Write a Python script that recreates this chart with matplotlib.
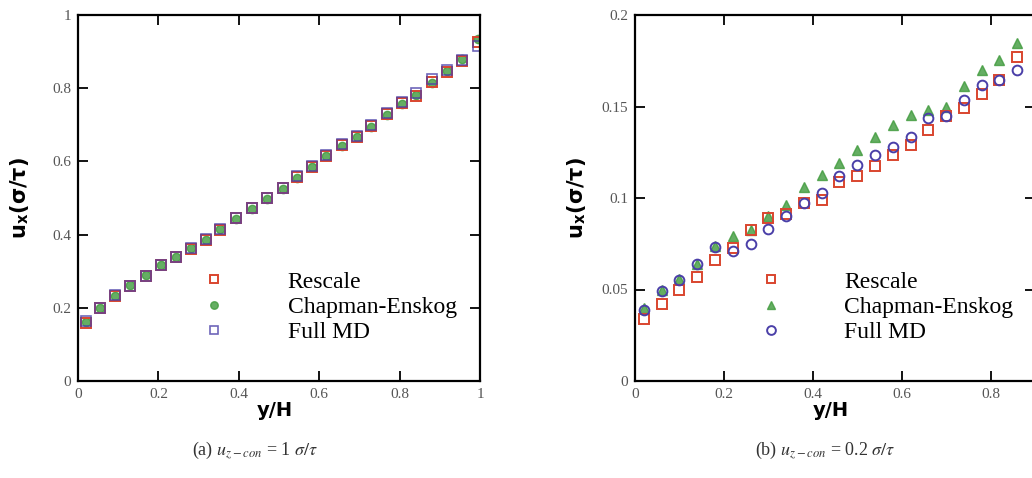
import matplotlib
matplotlib.use("Agg")
import matplotlib.pyplot as plt
import matplotlib.ticker as ticker

# ---------------------------------------------------------------------------
# Data
# ---------------------------------------------------------------------------

# (a) u_z-con = 1 sigma/tau
a_y = [0.019, 0.054, 0.091, 0.130, 0.168, 0.207, 0.243, 0.282, 0.319, 0.354,
       0.394, 0.432, 0.469, 0.509, 0.544, 0.583, 0.618, 0.656, 0.693, 0.729,
       0.768, 0.805, 0.842, 0.880, 0.917, 0.954, 0.996]
a_rescale = [0.158, 0.199, 0.233, 0.260, 0.288, 0.317, 0.338, 0.362, 0.385, 0.413,
             0.444, 0.472, 0.499, 0.526, 0.558, 0.586, 0.616, 0.645, 0.668, 0.697,
             0.729, 0.759, 0.778, 0.817, 0.845, 0.875, 0.925]
a_ce = [0.160, 0.199, 0.232, 0.262, 0.289, 0.316, 0.339, 0.363, 0.386, 0.414,
        0.443, 0.471, 0.497, 0.524, 0.555, 0.584, 0.614, 0.643, 0.667, 0.695,
        0.726, 0.756, 0.781, 0.815, 0.848, 0.879, 0.935]
a_md = [0.163, 0.200, 0.234, 0.259, 0.287, 0.318, 0.340, 0.364, 0.388, 0.415,
        0.446, 0.474, 0.501, 0.528, 0.560, 0.588, 0.618, 0.647, 0.670, 0.699,
        0.731, 0.761, 0.786, 0.824, 0.850, 0.878, 0.915]

# (b) u_z-con = 0.2 sigma/tau
b_y = [0.02, 0.06, 0.10, 0.14, 0.18, 0.22, 0.26, 0.30, 0.34, 0.38, 0.42,
       0.46, 0.50, 0.54, 0.58, 0.62, 0.66, 0.70, 0.74, 0.78, 0.82, 0.86]
b_rescale = [0.034, 0.042, 0.050, 0.057, 0.066, 0.0725, 0.0825, 0.089, 0.091, 0.097, 0.099,
             0.1085, 0.112, 0.1175, 0.1235, 0.129, 0.137, 0.145, 0.149, 0.157, 0.1645, 0.177]
b_ce = [0.040, 0.050, 0.056, 0.064, 0.074, 0.079, 0.0825, 0.090, 0.096, 0.106, 0.1125,
        0.119, 0.126, 0.1335, 0.140, 0.1455, 0.148, 0.150, 0.161, 0.170, 0.1755, 0.1845]
b_md = [0.039, 0.049, 0.055, 0.064, 0.073, 0.071, 0.075, 0.083, 0.090, 0.097, 0.103,
        0.112, 0.118, 0.1235, 0.128, 0.1335, 0.1435, 0.145, 0.1535, 0.162, 0.1645, 0.170]

labels = ["Rescale", "Chapman-Enskog", "Full MD"]
a_ticks = [0, 0.2, 0.4, 0.6, 0.8, 1]
b_xticks = [0, 0.2, 0.4, 0.6, 0.8]
b_yticks = [0, 0.05, 0.1, 0.15, 0.2]

RED = "#d9452e"
GREEN = "#3f9a3c"
BLUE = "#4a3fa8"

plt.rcParams["font.family"] = ["Liberation Serif", "DejaVu Serif"]
plt.rcParams["mathtext.fontset"] = "stix"

fig = plt.figure(figsize=(10.32, 4.78), dpi=100)
ax_a = fig.add_axes([78 / 1032, 97 / 478, 402 / 1032, 366 / 478])
ax_b = fig.add_axes([635 / 1032, 97 / 478, 400 / 1032, 366 / 478])

# panel (a)
ax_a.plot(a_y, a_ce, "o", ms=6, mfc=GREEN, mec=GREEN, alpha=0.8, label=labels[1])
ax_a.plot(a_y, a_rescale, "s", ms=7, mfc="none", mec=RED, mew=1.4, label=labels[0])
ax_a.plot(a_y, a_md, "s", ms=7, mfc="none", mec=BLUE, mew=1.2, alpha=0.8, label=labels[2])

# panel (b)
ax_b.plot(b_y, b_ce, "^", ms=7, mfc=GREEN, mec=GREEN, alpha=0.8, label=labels[1])
ax_b.plot(b_y, b_rescale, "s", ms=7, mfc="none", mec=RED, mew=1.4, label=labels[0])
ax_b.plot(b_y, b_md, "o", ms=7, mfc="none", mec=BLUE, mew=1.4, label=labels[2])

ax_a.set_xlim(0, 1)
ax_a.set_ylim(0, 1)
ax_a.set_xticks(a_ticks)
ax_a.set_yticks(a_ticks)

ax_b.set_xlim(0, 0.9)
ax_b.set_ylim(0, 0.2)
ax_b.set_xticks(b_xticks)
ax_b.set_yticks(b_yticks)

for ax in (ax_a, ax_b):
    ax.xaxis.set_major_formatter(ticker.FormatStrFormatter("%g"))
    ax.yaxis.set_major_formatter(ticker.FormatStrFormatter("%g"))
    ax.tick_params(direction="in", length=7, width=1.3, top=True, right=True,
                   labelsize=11, labelcolor="#555555", pad=5)
    for sp in ax.spines.values():
        sp.set_linewidth(1.6)
    ax.set_ylabel("u$_\\mathregular{x}$(σ/τ)", family="DejaVu Sans",
                  fontweight="bold", fontsize=15)
    ax.set_xlabel("y/H", family="DejaVu Sans", fontweight="bold", fontsize=14)
    ax.xaxis.set_label_coords(0.49, -0.055)
    ax.yaxis.set_label_coords(-0.118, 0.5)

    handles, labs = ax.get_legend_handles_labels()
    order = [labs.index(l) for l in labels]
    leg = ax.legend([handles[i] for i in order], [labs[i] for i in order],
                    loc="upper left", bbox_to_anchor=(0.31, 0.30), frameon=False,
                    fontsize=17, handlelength=1.0, handletextpad=2.6,
                    labelspacing=0.15, borderpad=0, borderaxespad=0,
                    markerscale=0.9)

fig.text(255 / 1032, 28 / 478, r"(a) $u_{z-con}$ = 1 $\sigma/\tau$",
         ha="center", va="center", fontsize=13, color="#333333")
fig.text(825 / 1032, 28 / 478, r"(b) $u_{z-con}$ = 0.2 $\sigma/\tau$",
         ha="center", va="center", fontsize=13, color="#333333")

fig.savefig("out.png", dpi=100)
